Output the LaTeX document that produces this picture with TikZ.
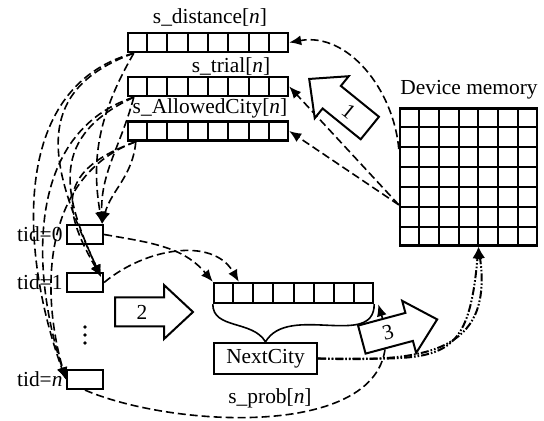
\documentclass[tikz,border=0pt]{standalone}
\usepackage{fontspec}
\setmainfont{Liberation Serif}
\usetikzlibrary{arrows.meta, positioning, calc}

% cell dividers of a one-row array
\newcommand{\cellrow}[1]{%
  \foreach \i in {1,...,7}
    \draw[line width=1pt] ($(#1.north west)!\i/8!(#1.north east)$) -- ($(#1.south west)!\i/8!(#1.south east)$);}

% big hollow arrow: name, centre, angle, label, label angle
\newcommand{\blockarrow}[5]{%
  \begin{scope}[shift={#2}, rotate=#3]
    \draw[bigarrow] (-39,-14.5) -- (10,-14.5) -- (10,-27) -- (39,0) -- (10,27) -- (10,14.5) -- (-39,14.5) -- cycle;
    \node[rotate=#5] (#1) at (-12,0) {#4};
  \end{scope}}

\begin{document}
\begin{tikzpicture}[x=0.5pt, y=0.5pt,
    font=\fontsize{10.7pt}{12pt}\selectfont,
    arr/.style={draw, line width=1.2pt, inner sep=0pt, minimum width=80pt, minimum height=9.5pt},
    tidbox/.style={draw, line width=1.1pt, inner sep=0pt, minimum width=18pt, minimum height=9.5pt},
    flow/.style={-{Latex[length=6pt,width=5pt]}, line width=0.8pt, dash pattern=on 4pt off 2pt},
    back/.style={-{Latex[length=6pt,width=5pt]}, line width=1pt,
                 dash pattern=on 4pt off 1pt on 0.8pt off 1pt on 0.8pt off 1pt},
    bigarrow/.style={draw, line width=1pt, fill=white, line join=miter}
]
    \useasboundingbox (0,0) rectangle (544,421);

    % Shared memory arrays
    \node[arr] (dist) at (208,378.5) {};
    \node[arr] (trial) at (208,334.5) {};
    \node[arr] (allowed) at (208,290) {};
    \cellrow{dist}
    \cellrow{trial}
    \cellrow{allowed}
    \node (distlbl) at (210,403) {s\_distance[\textit{n}]};
    \node (triallbl) at (231,354) {s\_trial[\textit{n}]};
    \node (allowedlbl) at (210,313) {s\_AllowedCity[\textit{n}]};

    % Device memory
    \node[draw, line width=1.2pt, inner sep=0pt, minimum size=68.5pt] (mem) at (468.5,244) {};
    \foreach \i in {1,...,6} {
        \draw[line width=1pt] ($(mem.north west)!\i/7!(mem.north east)$) -- ($(mem.south west)!\i/7!(mem.south east)$);
        \draw[line width=1pt] ($(mem.north west)!\i/7!(mem.south west)$) -- ($(mem.north east)!\i/7!(mem.south east)$);
    }
    \node (memlbl) at (469,331) {Device memory};

    % Threads
    \node[tidbox] (tid0) at (85,186.5) {};
    \node[tidbox] (tid1) at (85,138.5) {};
    \node[tidbox] (tidn) at (85,41.5) {};
    \node[left=0pt of tid0, inner sep=1.5pt] (tid0lbl) {tid=0};
    \node[left=0pt of tid1, inner sep=1.5pt] (tid1lbl) {tid=1};
    \node[left=0pt of tidn, inner sep=1.5pt] (tidnlbl) {tid=\textit{n}};
    \foreach \y in {78,86,94}
        \fill (85,\y) circle (0.9pt);

    % Probability array and result
    \node[arr, minimum width=79.5pt, minimum height=10pt] (prob) at (293.5,128) {};
    \cellrow{prob}
    \node[draw, line width=1.1pt, inner sep=0pt, minimum width=51.5pt, minimum height=15.5pt] (next) at (265.5,62.5) {NextCity};
    \node (problbl) at (270,23) {s\_prob[\textit{n}]};
    \draw[line width=0.8pt] (prob.south west) to[out=-90, in=120] (next.north)
        to[out=60, in=-90] (prob.south east);

    % Device memory -> shared memory
    \coordinate (m1) at ($(mem.north west)!0.3!(mem.south west)$);
    \coordinate (m2) at ($(mem.north west)!0.7!(mem.south west)$);
    \draw[flow] (m1) to[out=95, in=10] (dist.east);
    \draw[flow] (m2) -- (trial.east);
    \draw[flow] (m2) -- (allowed.east);

    % Shared memory -> threads
    \coordinate (d0) at ($(dist.south west)+(7,0)$);
    \coordinate (r0) at ($(trial.south west)+(7,0)$);
    \coordinate (a0) at ($(allowed.south west)+(9,0)$);
    \coordinate (t0) at ($(tid0.north east)+(-2,0)$);
    \coordinate (t1) at ($(tid1.north east)+(-3,-5)$);
    \draw[flow] (d0) to[out=-120, in=100] (t0);
    \draw[flow] (r0) to[out=-105, in=92] (t0);
    \draw[flow] (a0) to[out=-95, in=75] (t0);
    \draw[flow] (d0) to[out=200, in=115, looseness=1.3] (t1);
    \draw[flow] (r0) to[out=205, in=115, looseness=1.3] (t1);
    \draw[flow] (a0) to[out=200, in=120, looseness=1.5] (t1);
    \draw[flow] (d0) to[out=195, in=110] (tidn.west);
    \draw[flow] (r0) to[out=198, in=108] (tidn.west);
    \draw[flow] (a0) to[out=200, in=106] (tidn.west);

    % Threads -> s_prob
    \draw[flow] (tid0.east) to[out=-10, in=130] (prob.north west);
    \draw[flow] (tid1.east) to[out=40, in=120] ($(prob.north west)+(26,0)$);
    \draw[flow] (tidn.south) .. controls (180,-10) and (420,-20) .. ($(prob.south east)+(4,0)$);

    % NextCity -> device memory
    \coordinate (mtip) at ($(mem.south west)!4/7!(mem.south east)$);
    \draw[back] (next.east) to[out=0, in=-95, looseness=1.6] (mtip);
    \draw[back] (next.east) to[out=-2, in=-82, looseness=1.4] (mtip);

    % Steps
    \blockarrow{one}{(339.5,317.5)}{141}{1}{-39}
    \blockarrow{two}{(154,109)}{0}{2}{0}
    \blockarrow{three}{(399.5,91.5)}{15}{3}{15}
\end{tikzpicture}
\end{document}
